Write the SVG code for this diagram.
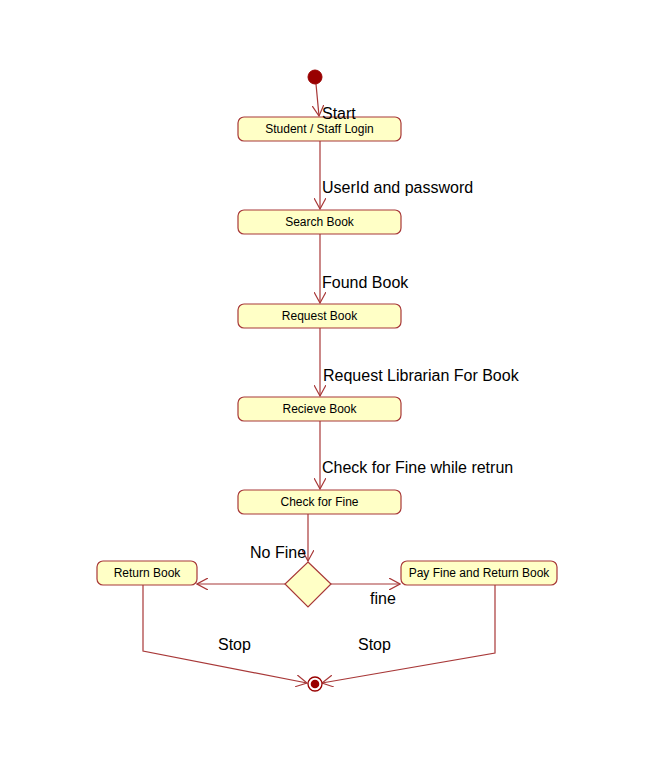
<svg xmlns="http://www.w3.org/2000/svg" width="671" height="767" viewBox="0 0 671 767">
<style>
.node{fill:#FFFFC6;stroke:#A83838;stroke-width:1.2}
.nt{font-family:"Liberation Sans",Arial,sans-serif;font-size:12px;fill:#000;text-anchor:middle}
.lbl{font-family:"Liberation Sans",Arial,sans-serif;font-size:16px;fill:#000}
.edge{fill:none;stroke:#A83838;stroke-width:1.2}
</style>
<defs>
<marker id="arr" viewBox="0 0 12 12" refX="11" refY="6" markerWidth="12" markerHeight="12" markerUnits="userSpaceOnUse" orient="auto">
<path d="M0,0 L11,6 L0,12" fill="none" stroke="#A83838" stroke-width="1.2"/>
</marker>
</defs>
<rect width="671" height="767" fill="#fff"/>
<g id="connectors">
<path class="edge" d="M316,84 L319,116" marker-end="url(#arr)"/>
<path class="edge" d="M320,141 L320,209" marker-end="url(#arr)"/>
<path class="edge" d="M320,234 L320,303" marker-end="url(#arr)"/>
<path class="edge" d="M320,328 L320,396" marker-end="url(#arr)"/>
<path class="edge" d="M320,421 L320,489" marker-end="url(#arr)"/>
<path class="edge" d="M308,514 L308,561" marker-end="url(#arr)"/>
<path class="edge" d="M285,584 L197,584" marker-end="url(#arr)"/>
<path class="edge" d="M331,584 L400,584" marker-end="url(#arr)"/>
<path class="edge" d="M143,585 L143,651 L307,683" marker-end="url(#arr)"/>
<path class="edge" d="M495,584 L495,653 L322,683" marker-end="url(#arr)"/>
</g>
<g id="start"><circle cx="315" cy="77" r="7" fill="#990000" stroke="#990000"/></g>
<g id="login"><rect class="node" x="238" y="117" width="163" height="24" rx="6"/><text class="nt" x="319.5" y="133">Student / Staff Login</text></g>
<g id="search"><rect class="node" x="238" y="210" width="163" height="24" rx="6"/><text class="nt" x="319.5" y="226">Search Book</text></g>
<g id="request"><rect class="node" x="238" y="304" width="163" height="24" rx="6"/><text class="nt" x="319.5" y="320">Request Book</text></g>
<g id="recieve"><rect class="node" x="238" y="397" width="163" height="24" rx="6"/><text class="nt" x="319.5" y="413">Recieve Book</text></g>
<g id="checkfine"><rect class="node" x="238" y="490" width="163" height="24" rx="6"/><text class="nt" x="319.5" y="506">Check for Fine</text></g>
<g id="decision"><polygon class="node" points="308,562 331,584 308,607 285,584"/></g>
<g id="returnbook"><rect class="node" x="97" y="561" width="100" height="24" rx="6"/><text class="nt" x="147" y="577">Return Book</text></g>
<g id="payfine"><rect class="node" x="401" y="561" width="156" height="24" rx="6"/><text class="nt" x="479" y="577">Pay Fine and Return Book</text></g>
<g id="end"><circle cx="315" cy="684" r="7" fill="#fff" stroke="#990000" stroke-width="1.3"/><circle cx="315" cy="684" r="4.3" fill="#990000"/></g>
<g id="labels">
<text class="lbl" x="322" y="119">Start</text>
<text class="lbl" x="322" y="193">UserId and password</text>
<text class="lbl" x="322" y="288">Found Book</text>
<text class="lbl" x="323" y="381">Request Librarian For Book</text>
<text class="lbl" x="322" y="473">Check for Fine while retrun</text>
<text class="lbl" x="250" y="558">No Fine</text>
<text class="lbl" x="370" y="604">fine</text>
<text class="lbl" x="218" y="650">Stop</text>
<text class="lbl" x="358" y="650">Stop</text>
</g>
</svg>
